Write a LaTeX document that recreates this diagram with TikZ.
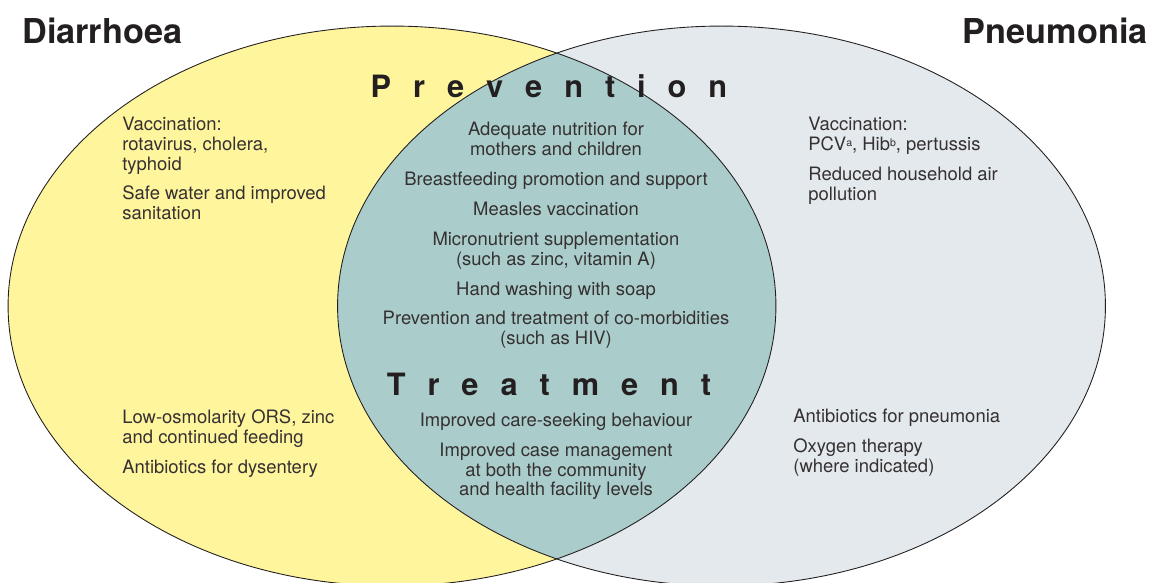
\documentclass[tikz,border=0pt]{standalone}
\usepackage{fontspec}
\setmainfont{TeX Gyre Heros}
\definecolor{diayellow}{HTML}{FFF59D}
\definecolor{pneugrey}{HTML}{E3E9EC}
\definecolor{overlap}{HTML}{AACDCB}
\definecolor{ink}{HTML}{231F20}
\newcommand{\gap}{\hspace{12.5pt}}
\newcommand{\note}[1]{\raisebox{2.2pt}{\fontsize{6}{6}\selectfont #1}}

\begin{document}
\begin{tikzpicture}[x=0.02cm,y=-0.02cm,
  title/.style={font=\fontsize{19.5}{23}\selectfont\bfseries,text=ink,inner sep=0},
  band/.style={font=\fontsize{17.5}{20}\selectfont\bfseries,text=ink,inner sep=0},
  items/.style={font=\fontsize{10.5}{11.3}\selectfont,text=ink!92,inner sep=0},
  oval/.style={x radius=7.68cm,y radius=5.6cm}]
  \useasboundingbox (0,0) rectangle (1152,582);

  % the two sets and their overlap
  \begin{scope}
    \clip (0,0) rectangle (1152,582);
    \fill[diayellow] (392,306) ellipse [oval];
    \fill[pneugrey] (721.5,306) ellipse [oval];
    \begin{scope}
      \clip (392,306) ellipse [oval];
      \fill[overlap] (721.5,306) ellipse [oval];
    \end{scope}
    \draw[line width=0.5pt,ink] (392,306) ellipse [oval];
    \draw[line width=0.5pt,ink] (721.5,306) ellipse [oval];
  \end{scope}

  \node[title,anchor=base west] (dia) at (22,43) {Diarrhoea};
  \node[title,anchor=base east] (pneu) at (1148,43) {Pneumonia};

  \node[band,anchor=base] (prev) at (549,97)
    {P\gap r\gap e\gap v\gap e\gap n\gap t\gap i\gap o\gap n};
  \node[band,anchor=base] (treat) at (549,395)
    {T\gap r\gap e\gap a\gap t\gap m\gap e\gap n\gap t};

  % prevention
  \node[items,align=left,anchor=north west] (diaprev) at (122,116.5)
    {Vaccination:\\ rotavirus, cholera,\\ typhoid\\[5.7pt]
     Safe water and improved\\ sanitation};
  \node[items,align=center,anchor=north] (bothprev) at (556,122)
    {Adequate nutrition for\\ mothers and children\\[5.7pt]
     Breastfeeding promotion and support\\[5.7pt]
     Measles vaccination\\[5.7pt]
     Micronutrient supplementation\\ (such as zinc, vitamin A)\\[5.7pt]
     Hand washing with soap\\[5.7pt]
     Prevention and treatment of co-morbidities\\ (such as HIV)};
  \node[items,align=left,anchor=north west] (pneuprev) at (808,117)
    {Vaccination:\\ PCV\note{a}, Hib\note{b}, pertussis\\[5.7pt]
     Reduced household air\\ pollution};

  % treatment
  \node[items,align=left,anchor=north west] (diatreat) at (122,409.5)
    {Low-osmolarity ORS, zinc\\ and continued feeding\\[5.7pt]
     Antibiotics for dysentery};
  \node[items,align=center,anchor=north] (bothtreat) at (556,412.5)
    {Improved care-seeking behaviour\\[5.7pt]
     Improved case management\\ at both the community\\ and health facility levels};
  \node[items,align=left,anchor=north west] (pneutreat) at (793,408.5)
    {Antibiotics for pneumonia\\[5.7pt]
     Oxygen therapy\\ (where indicated)};
\end{tikzpicture}
\end{document}
